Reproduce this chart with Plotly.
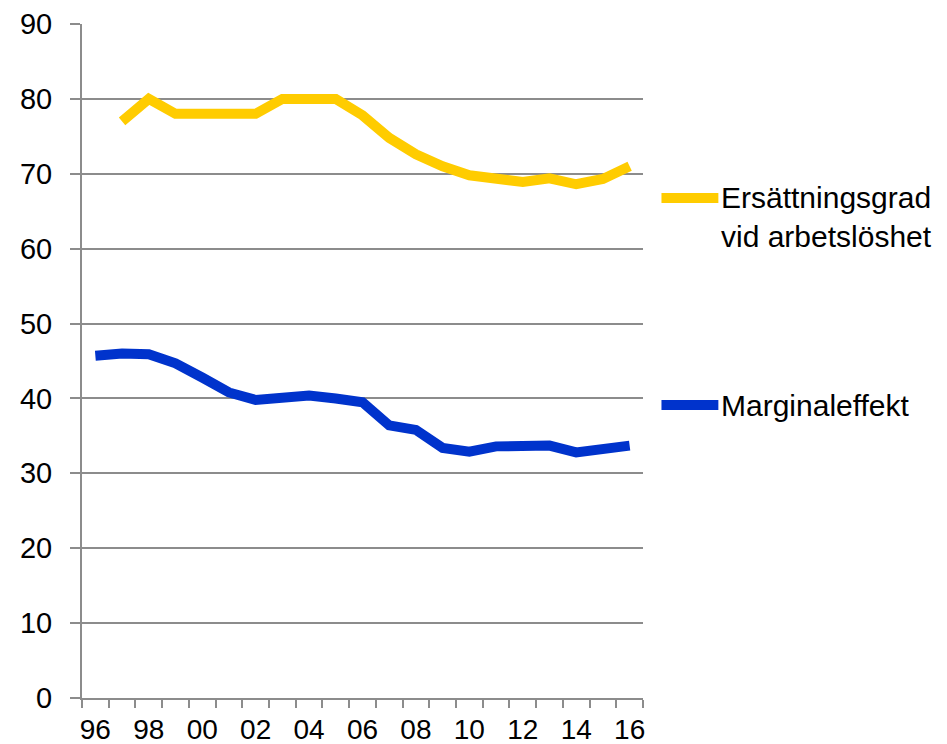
import plotly.graph_objects as go

years = list(range(1996, 2017))
tick_years = list(range(1996, 2017, 2))
tick_labels = ["96", "98", "00", "02", "04", "06", "08", "10", "12", "14", "16"]

ersattning = [None, 77.0, 80.0, 78.0, 78.0, 78.0, 78.0, 80.0, 80.0, 80.0, 77.8,
              74.8, 72.6, 71.0, 69.8, 69.3, 68.9, 69.4, 68.6, 69.3, 71.0]
marginal = [45.7, 46.0, 45.9, 44.7, 42.8, 40.8, 39.8, 40.0, 40.4, 40.0, 39.5,
            36.4, 35.8, 33.4, 32.9, 33.6, 33.5, 33.7, 32.8, 33.3, 33.7]

names = ["Ersättningsgrad<br>vid arbetslöshet", "Marginaleffekt"]
colors = ["#FFCC00", "#0033CC"]

OFF = 8  # default page body margin
W, H = 947 - OFF, 744 - OFF
# plot area in page pixels
PL, PR, PT, PB = 81.5, 643.5, 24, 698
L, R, T, B = PL - OFF, PR - OFF, PT - OFF, PB - OFF
FONT = "Liberation Sans, Arial, sans-serif"
GRID = "#8C8C8C"

fig = go.Figure()
fig.add_trace(go.Scatter(x=years, y=ersattning, mode="lines",
                         line=dict(color=colors[0], width=10),
                         connectgaps=False, showlegend=False))
fig.add_trace(go.Scatter(x=years, y=marginal, mode="lines",
                         line=dict(color=colors[1], width=10),
                         showlegend=False))

def px_x(p):
    return (p - PL) / (PR - PL)

def px_y(p):
    return (PB - p) / (PB - PT)

# manual legend (page pixel positions)
legend_y = [198, 405]
text_y = [217, 405]
for name, col, ly, ty in zip(names, colors, legend_y, text_y):
    fig.add_shape(type="line", xref="paper", yref="paper",
                  x0=px_x(662), x1=px_x(719), y0=px_y(ly), y1=px_y(ly),
                  line=dict(color=col, width=10))
    fig.add_annotation(xref="paper", yref="paper", x=px_x(720), y=px_y(ty),
                       xanchor="left", yanchor="middle", align="left",
                       text=name, showarrow=False,
                       font=dict(family=FONT, size=30, color="#000000"))

fig.update_layout(
    width=W, height=H,
    margin=dict(l=L, r=W - R, t=T, b=H - B, pad=0, autoexpand=False),
    paper_bgcolor="white", plot_bgcolor="white",
    font=dict(family=FONT, size=29, color="#000000"),
    showlegend=False,
)
fig.update_xaxes(
    range=[1995.5, 2016.5], automargin=False,
    tickmode="array", tickvals=tick_years, ticktext=tick_labels,
    ticks="outside", ticklen=5, tickcolor="rgba(0,0,0,0)",
    minor=dict(tickvals=[y - 0.5 for y in years] + [2016.5], ticks="outside",
               ticklen=8, tickwidth=2, tickcolor=GRID, showgrid=False),
    showgrid=False, zeroline=False,
    showline=True, linecolor=GRID, linewidth=2,
    tickfont=dict(size=28), ticklabelstandoff=0,
)
fig.update_yaxes(
    range=[0, 90], tickmode="linear", tick0=0, dtick=10, automargin=False,
    ticks="outside", ticklen=10, tickwidth=2, tickcolor=GRID,
    showgrid=True, gridcolor=GRID, gridwidth=2,
    zeroline=False, showline=True, linecolor=GRID, linewidth=2,
    tickfont=dict(size=29), ticklabelstandoff=12,
)

fig.write_html("out.html")
